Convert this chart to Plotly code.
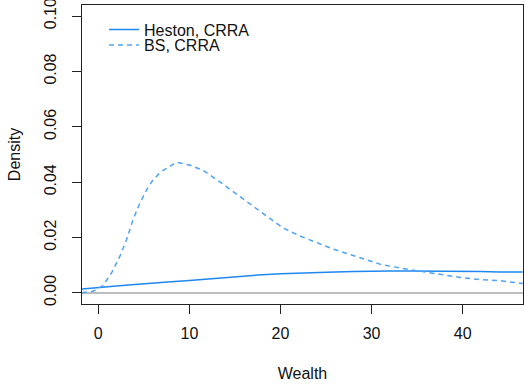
import plotly.graph_objects as go

# Heston, CRRA density (solid)
heston_x = [-1.8, 0, 2, 4, 6, 8, 10, 12, 14, 16, 18, 20, 22, 24, 26, 28, 30, 32, 34, 36, 38, 40, 42, 44, 46.6]
heston_y = [0.0014, 0.0020, 0.0025, 0.0030, 0.0034, 0.0040, 0.0045, 0.0050, 0.0056, 0.0062, 0.0066, 0.0069,
            0.0072, 0.0075, 0.0076, 0.0077, 0.0079, 0.0079, 0.0079, 0.0079, 0.0079, 0.0079, 0.0077, 0.0076, 0.0076]

# BS, CRRA density (dashed)
bs_x = [-1.8, -0.6, 0.5, 1.45, 2.36, 3.1, 3.8, 4.56, 5.3, 6.0, 6.9, 7.85, 8.6, 10.0, 11.5, 13.3, 14.8, 16.6,
        18.5, 20.3, 22.1, 24.0, 25.8, 28.3, 30.9, 33.1, 35.3, 37.5, 39.7, 41.9, 44.1, 46.6]
bs_y = [0.0001, 0.0006, 0.0026, 0.0072, 0.0132, 0.0192, 0.0264, 0.0324, 0.0372, 0.0408, 0.0438, 0.0458,
        0.0472, 0.0462, 0.0443, 0.0402, 0.0366, 0.0324, 0.0276, 0.0234, 0.0206, 0.0182, 0.0158, 0.0132,
        0.0104, 0.0090, 0.0078, 0.0066, 0.0056, 0.0048, 0.0044, 0.0034]

x_ticks = [0, 10, 20, 30, 40]
y_ticks = [0.00, 0.02, 0.04, 0.06, 0.08, 0.10]
y_tick_labels = ["0.00", "0.02", "0.04", "0.06", "0.08", "0.10"]

FONT = "Liberation Sans, Arial, sans-serif"

fig = go.Figure()
fig.add_trace(go.Scatter(x=heston_x, y=heston_y, mode="lines", name="Heston, CRRA",
                         line=dict(color="#1E88F0", width=1.5), legend="legend"))
fig.add_trace(go.Scatter(x=bs_x, y=bs_y, mode="lines", name="BS, CRRA",
                         line=dict(color="#4FA3F5", width=1.5, dash="5px,4px"), legend="legend2"))

legend_common = dict(font=dict(family=FONT, size=16, color="#111"), bgcolor="rgba(0,0,0,0)",
                     xanchor="left", yanchor="middle", itemwidth=30, tracegroupgap=0)
fig.update_layout(
    width=524, height=390,
    margin=dict(l=82, r=1, t=5, b=86, autoexpand=False),
    paper_bgcolor="white", plot_bgcolor="white",
    font=dict(family=FONT, size=16, color="#111"),
    showlegend=True,
    legend=dict(x=0.05, y=0.918, **legend_common),
    legend2=dict(x=0.05, y=0.866, **legend_common),
    xaxis=dict(range=[-1.79, 46.62], tickmode="array", tickvals=x_ticks, ticks="outside", ticklen=9,
               tickcolor="#222",
               showline=True, linecolor="#222", linewidth=1, mirror=True, showgrid=False, zeroline=False,
               automargin=False, tickfont=dict(size=16), ticklabelstandoff=6,
               title=dict(text="Wealth", standoff=26, font=dict(size=16))),
    yaxis=dict(range=[-0.004, 0.104], tickmode="array", tickvals=y_ticks, ticktext=y_tick_labels,
               ticks="outside", ticklen=9, tickcolor="#222", tickangle=-90, ticklabeloverflow="allow",
               showline=True, linecolor="#222", linewidth=1, mirror=True, showgrid=False,
               zeroline=True, zerolinecolor="#BEBEBE", zerolinewidth=1.5,
               automargin=False, tickfont=dict(size=16), ticklabelstandoff=10,
               title=dict(text="Density", standoff=16, font=dict(size=16))),
)

fig.write_html("out.html", config={"displayModeBar": False},
               post_script="document.body.style.margin='0';document.body.style.padding='0';")
